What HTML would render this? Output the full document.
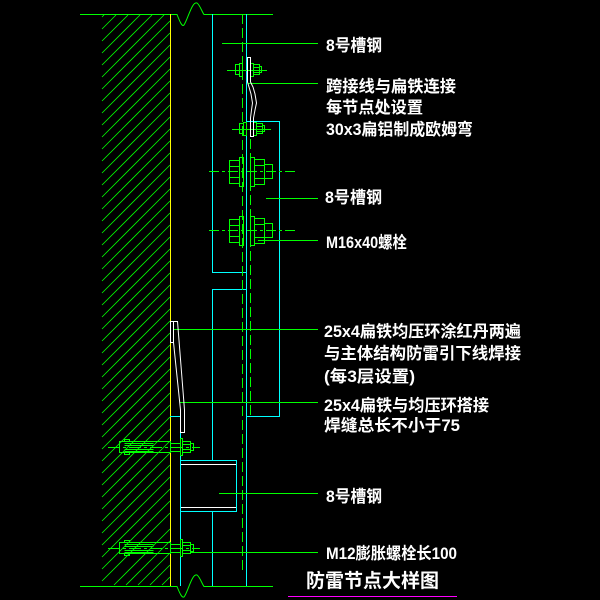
<!DOCTYPE html>
<html>
<head>
<meta charset="utf-8">
<style>
html,body{margin:0;padding:0;background:#000;width:600px;height:600px;overflow:hidden;}
svg{display:block;position:absolute;left:0;top:0;}
text{font-family:"Liberation Sans","Noto Sans CJK SC",sans-serif;font-weight:bold;fill:#fff;}
</style>
</head>
<body>
<svg width="600" height="600" viewBox="0 0 600 600" xmlns="http://www.w3.org/2000/svg" overflow="hidden">
<rect width="600" height="600" fill="#000"/>

<!-- hatch -->
<g fill="none" stroke="#00ff00" stroke-width="0.8">
<path d="M102 17L104 15M102 29L116 15M102 41L128 15M102 53L140 15M102 65L152 15M102 77L164 15M102 89L170 21M102 101L170 33M102 113L170 45M102 125L170 57M102 137L170 69M102 149L170 81M102 161L170 93M102 173L170 105M102 185L170 117M102 197L170 129M102 209L170 141M102 221L170 153M102 233L170 165M102 245L170 177M102 257L170 189M102 269L170 201M102 281L170 213M102 293L170 225M102 305L170 237M102 317L170 249M102 329L170 261M102 341L170 273M102 353L170 285M102 365L170 297M102 377L170 309M102 389L170 321M102 401L170 333M102 413L170 345M102 425L170 357M102 437L170 369M102 449L170 381M102 461L170 393M102 473L170 405M102 485L170 417M102 497L170 429M102 509L170 441M102 521L170 453M102 533L170 465M102 545L170 477M102 557L170 489M102 569L170 501M102 581L170 513M114 585L170 529M126 585L170 541M138 585L170 553M150 585L170 565M162 585L170 577"/>
</g>

<!-- break lines -->
<g fill="none" stroke="#00ff00" stroke-width="1">
<path d="M80 14.5 H177 C180 22, 182 27, 184 25 C188 19, 192 1, 197 3 C200 5, 202 12, 204 14.5 H273"/>
<path d="M80 586.5 H177 C180 594, 182 598, 184 597 C188 592, 192 573, 197 575 C200 577, 202 584, 204 586.5 H273"/>
</g>

<!-- yellow wall line -->
<path d="M170.5 14 V586" stroke="#ffff00" stroke-width="1" fill="none"/>

<!-- cyan -->
<g fill="none" stroke="#00ffff" stroke-width="1" shape-rendering="crispEdges">
<path d="M212.5 14 V272.5 H246"/>
<path d="M246.5 14 V586"/>
<path d="M246 121.5 H279.5 V416.5 H246"/>
<path d="M246 289.5 H212.5 V460"/>
<path d="M212.5 511 V586"/>
<path d="M170 416.5 H180.5 V586"/>
<rect x="180.5" y="460.5" width="56" height="51"/>
</g>
<g stroke="#ffffff" stroke-width="1" shape-rendering="crispEdges">
<path d="M181 464.5 H236 M181 507.5 H236"/>
</g>

<!-- dashed green -->
<g fill="none" stroke="#00ff00" stroke-width="1" shape-rendering="crispEdges">
<path d="M242.5 14 V573" stroke-dasharray="10 4"/>
<path d="M250.5 125 V417" stroke-dasharray="10 4"/>
</g>

<!-- leader lines -->
<g fill="none" stroke="#00ff00" stroke-width="1" shape-rendering="crispEdges">
<path d="M222 43.5 H318"/>
<path d="M248 83.5 H318"/>
<path d="M266 198.5 H318"/>
<path d="M258 240.5 H318"/>
<path d="M173 329.5 H318"/>
<path d="M180 402.5 H318"/>
<path d="M219 493.5 H318"/>
<path d="M190 552.5 H318"/>
</g>

<!-- bolt centerlines -->
<g fill="none" stroke="#00ff00" stroke-width="1" shape-rendering="crispEdges">
<path d="M227 70.5 H267"/>
<path d="M232 129.5 H271"/>
<path d="M209 171.5 H297" stroke-dasharray="10 3 3 3"/>
<path d="M209 230.5 H297" stroke-dasharray="10 3 3 3"/>
<path d="M108 447.5 H200" stroke-dasharray="12 3 3 3"/>
<path d="M108 548.5 H200" stroke-dasharray="12 3 3 3"/>
</g>

<!-- small bolts -->
<g fill="none" stroke="#00ff00" stroke-width="1" shape-rendering="crispEdges">
<rect x="235.5" y="64.5" width="4" height="10"/>
<rect x="239.5" y="63.5" width="3" height="13"/>
<rect x="250.5" y="63.5" width="3" height="13"/>
<rect x="253.5" y="64.5" width="6" height="10"/>
<path d="M253.5 67.5 H259.5 M253.5 72.5 H259.5"/>
<rect x="259.5" y="66.5" width="2" height="6"/>

<rect x="239.5" y="123.5" width="4" height="10"/>
<rect x="243.5" y="122.5" width="3" height="13"/>
<rect x="253.5" y="122.5" width="3" height="13"/>
<rect x="256.5" y="123.5" width="6" height="10"/>
<path d="M256.5 126.5 H262.5 M256.5 131.5 H262.5"/>
<rect x="262.5" y="125.5" width="2" height="6"/>
</g>

<!-- M16 bolts -->
<g fill="none" stroke="#00ff00" stroke-width="1" shape-rendering="crispEdges">
<rect x="229.5" y="160.5" width="10" height="23"/>
<path d="M229.5 166.5 H239.5 M229.5 177.5 H239.5"/>
<rect x="239.5" y="157.5" width="4" height="29"/>
<rect x="250.5" y="157.5" width="4" height="29"/>
<rect x="254.5" y="159.5" width="10" height="25"/>
<path d="M254.5 165.5 H264.5 M254.5 178.5 H264.5"/>
<rect x="264.5" y="164.5" width="8" height="14"/>

<rect x="229.5" y="219.5" width="10" height="23"/>
<path d="M229.5 225.5 H239.5 M229.5 236.5 H239.5"/>
<rect x="239.5" y="216.5" width="4" height="29"/>
<rect x="250.5" y="216.5" width="4" height="29"/>
<rect x="254.5" y="218.5" width="10" height="25"/>
<path d="M254.5 224.5 H264.5 M254.5 237.5 H264.5"/>
<rect x="264.5" y="223.5" width="8" height="14"/>
</g>

<!-- anchor bolts -->
<g fill="none" stroke="#00ff00" stroke-width="1" shape-rendering="crispEdges">
<rect x="119.5" y="441.5" width="51" height="11"/>
<rect x="124.5" y="439.5" width="5" height="2"/>
<rect x="124.5" y="452.5" width="5" height="2"/>
<path d="M124.5 443.5 H153.5 M124.5 445.5 H153.5 M124.5 449.5 H153.5 M124.5 451.5 H153.5"/>
<path d="M170 443.5 H181 M170 451.5 H181"/>
<rect x="180.5" y="438.5" width="2" height="17"/>
<rect x="182.5" y="441.5" width="8" height="11"/>
<path d="M182.5 444.5 H190.5 M182.5 449.5 H190.5"/>
<rect x="190.5" y="443.5" width="3" height="7"/>

<rect x="119.5" y="542.5" width="51" height="11"/>
<rect x="124.5" y="540.5" width="5" height="2"/>
<rect x="124.5" y="553.5" width="5" height="2"/>
<path d="M124.5 544.5 H153.5 M124.5 546.5 H153.5 M124.5 550.5 H153.5 M124.5 552.5 H153.5"/>
<path d="M170 544.5 H181 M170 552.5 H181"/>
<rect x="180.5" y="539.5" width="2" height="17"/>
<rect x="182.5" y="542.5" width="8" height="11"/>
<path d="M182.5 545.5 H190.5 M182.5 550.5 H190.5"/>
<rect x="190.5" y="544.5" width="3" height="7"/>
</g>

<!-- white flat bars -->
<g fill="none" stroke="#ffffff" stroke-width="1">
<polygon points="247.5,57.5 250.5,57.5 250.5,82 253,87 255,94 256.5,103 255,110 253.5,118 253.5,136.5 250.5,136.5 250.5,118 251.5,110 252.5,103 251,94 249,87 247.5,82"/>
<polygon points="170.5,321.5 177.5,321.5 184.5,410 184.5,432.5 180.5,432.5 180.5,410 173.5,342.5 170.5,342.5"/>
<path d="M173.5 321.5 V342.5"/>
</g>

<!-- magenta underline -->
<path d="M288 596.5 H457" stroke="#ff00ff" stroke-width="1" shape-rendering="crispEdges"/>

<!-- labels -->
<g font-size="16.5">
<text x="326" y="51" textLength="56" lengthAdjust="spacingAndGlyphs">8号槽钢</text>
<text x="326" y="92" textLength="130" lengthAdjust="spacingAndGlyphs">跨接线与扁铁连接</text>
<text x="326" y="113" textLength="97" lengthAdjust="spacingAndGlyphs">每节点处设置</text>
<text x="326" y="135" textLength="147" lengthAdjust="spacingAndGlyphs">30x3扁铝制成欧姆弯</text>
<text x="325" y="203" textLength="57" lengthAdjust="spacingAndGlyphs">8号槽钢</text>
<text x="326" y="248" textLength="81" lengthAdjust="spacingAndGlyphs">M16x40螺栓</text>
<text x="324" y="337" textLength="197" lengthAdjust="spacingAndGlyphs">25x4扁铁均压环涂红丹两遍</text>
<text x="324" y="359" textLength="197" lengthAdjust="spacingAndGlyphs">与主体结构防雷引下线焊接</text>
<text x="324" y="382" textLength="91" lengthAdjust="spacingAndGlyphs">(每3层设置)</text>
<text x="324" y="411" textLength="165" lengthAdjust="spacingAndGlyphs">25x4扁铁与均压环搭接</text>
<text x="324" y="431" textLength="136" lengthAdjust="spacingAndGlyphs">焊缝总长不小于75</text>
<text x="326" y="502" textLength="56" lengthAdjust="spacingAndGlyphs">8号槽钢</text>
<text x="326" y="559" textLength="131" lengthAdjust="spacingAndGlyphs">M12膨胀螺栓长100</text>
</g>
<text x="306" y="587" font-size="19" textLength="133" lengthAdjust="spacingAndGlyphs">防雷节点大样图</text>
</svg>
</body>
</html>
